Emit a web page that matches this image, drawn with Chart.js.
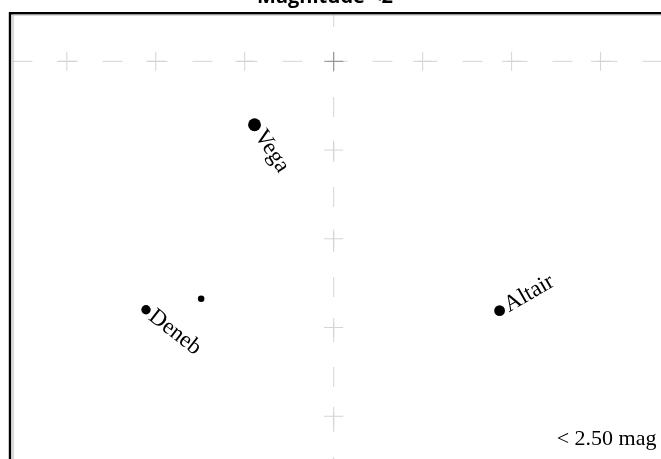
<!DOCTYPE html>
<html>
<head>
<meta charset="utf-8">
<script src="https://cdn.jsdelivr.net/npm/chart.js@4/dist/chart.umd.min.js"></script>
<style>
  html, body { margin: 0; padding: 0; background: #fff; overflow: hidden; }
  #sky { position: absolute; left: 0; top: 0; width: 700px; height: 480px; }
</style>
</head>
<body>
<canvas id="sky" width="700" height="480"></canvas>
<script>
// stars (projected sky coords, 1 unit = one grid step)
const starNames = ['Vega', 'Deneb', '', 'Altair'];
const starX = [-0.89, -2.11, -1.49, 1.865];
const starY = [-0.715, -2.8, -2.675, -2.81];
const starMag = [0.03, 1.25, 2.23, 0.77];

// grid crosses
const crossX = [-3, -2, -1, 1, 2, 3];
const crossY = [-1, -2, -3, -4];

const xMin = -3.6333, xMax = 4.0;
const yMin = -4.6, yMax = 0.5333;

const titleText = 'Magnitude <2';
const limitText = '< 2.50 mag';

// rotation of each name label (degrees)
const labelAngles = { Vega: 57, Deneb: 38, Altair: -30 };

// brighter star = bigger dot
function starRadius(mag) {
  return 6.5 - 1.45 * mag;
}

const gridColor = '#d4d4d4';

const frameAndText = {
  id: 'frameAndText',
  afterDatasetsDraw(chart) {
    const ctx = chart.ctx;
    const a = chart.chartArea;
    ctx.save();
    // frame: black outer line + thin grey line inside
    ctx.strokeStyle = '#000';
    ctx.lineWidth = 2.4;
    ctx.beginPath();
    ctx.moveTo(a.left - 0.5, chart.height);
    ctx.lineTo(a.left - 0.5, a.top - 0.8);
    ctx.lineTo(a.right, a.top - 0.8);
    ctx.stroke();
    ctx.strokeStyle = '#b5b5b5';
    ctx.lineWidth = 1;
    ctx.beginPath();
    ctx.moveTo(a.left + 2.5, chart.height);
    ctx.lineTo(a.left + 2.5, a.top + 1);
    ctx.lineTo(a.right, a.top + 1);
    ctx.stroke();

    // star names
    const meta = chart.getDatasetMeta(3);
    ctx.fillStyle = '#000';
    ctx.font = '23px "Liberation Serif"';
    ctx.textBaseline = 'middle';
    ctx.textAlign = 'left';
    meta.data.forEach((pt, i) => {
      const name = starNames[i];
      if (!name) return;
      ctx.save();
      ctx.translate(pt.x, pt.y);
      ctx.rotate(labelAngles[name] * Math.PI / 180);
      ctx.fillText(name, starRadius(starMag[i]) + 2, 0);
      ctx.restore();
    });

    // magnitude limit note
    ctx.textAlign = 'right';
    ctx.textBaseline = 'alphabetic';
    ctx.font = '22px "Liberation Serif"';
    ctx.fillText(limitText, a.right - 33, a.bottom - 25);

    // title (cut off by the top of the page)
    ctx.textAlign = 'center';
    ctx.font = 'bold 20px "Open Sans"';
    ctx.fillText(titleText, 325, 3);
    ctx.restore();
  }
};

new Chart(document.getElementById('sky'), {
  type: 'scatter',
  data: {
    datasets: [
      {
        // horizontal grid line
        type: 'line',
        data: [{ x: xMin, y: 0 }, { x: xMax, y: 0 }],
        borderColor: gridColor,
        borderWidth: 1,
        borderDash: [20, 25],
        borderDashOffset: 43,
        pointRadius: 0,
        order: 5
      },
      {
        // vertical grid line
        type: 'line',
        data: [{ x: 0, y: yMax }, { x: 0, y: yMin }],
        borderColor: gridColor,
        borderWidth: 1,
        borderDash: [20, 25],
        borderDashOffset: 7,
        pointRadius: 0,
        order: 5
      },
      {
        // crosses
        data: crossX.map(v => ({ x: v, y: 0 }))
          .concat(crossY.map(v => ({ x: 0, y: v })))
          .concat([{ x: 0, y: 0 }]),
        pointStyle: 'cross',
        pointRadius: 9.5,
        pointBorderWidth: 1,
        pointBorderColor: ctx => (ctx.raw && ctx.raw.x === 0 && ctx.raw.y === 0) ? '#8c8c8c' : gridColor,
        order: 4
      },
      {
        // stars
        data: starX.map((v, i) => ({ x: v, y: starY[i] })),
        pointStyle: 'circle',
        backgroundColor: '#000',
        borderWidth: 0,
        pointRadius: ctx => starRadius(starMag[ctx.dataIndex]),
        order: 0
      }
    ]
  },
  options: {
    responsive: false,
    animation: false,
    devicePixelRatio: 1,
    layout: { padding: { left: 9, top: 14, right: 4, bottom: 4 } },
    plugins: {
      legend: { display: false },
      tooltip: { enabled: false },
      title: { display: false }
    },
    scales: {
      x: { type: 'linear', display: false, min: xMin, max: xMax },
      y: { type: 'linear', display: false, min: yMin, max: yMax }
    }
  },
  plugins: [frameAndText]
});
</script>
</body>
</html>
